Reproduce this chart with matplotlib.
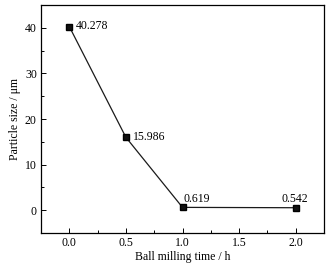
import matplotlib
matplotlib.use('Agg')
import matplotlib.pyplot as plt
from matplotlib.ticker import MultipleLocator

plt.rcParams['font.family'] = 'Liberation Serif'
plt.rcParams['font.size'] = 8.5

time = [0.0, 0.5, 1.0, 2.0]
size = [40.278, 15.986, 0.619, 0.542]
labels = ['40.278', '15.986', '0.619', '0.542']

fig = plt.figure(figsize=(3.31, 2.67), dpi=100)
ax = fig.add_axes([41/331, 1 - 233/267, 283/331, 228/267])

ax.plot(time, size, color='#1a1a1a', lw=0.9, marker='s', ms=4.2, mfc='#111111', mec='black')

offsets = [(5, -2), (5, -2), (1, 4), (-10, 4)]
for x, y, t, off in zip(time, size, labels, offsets):
    ax.annotate(t, (x, y), xytext=off, textcoords='offset points', fontsize=8.5)

ax.set_xlim(-0.25, 2.25)
ax.set_ylim(-5, 45)
ax.xaxis.set_major_locator(MultipleLocator(0.5))
ax.xaxis.set_minor_locator(MultipleLocator(0.25))
ax.yaxis.set_major_locator(MultipleLocator(10))
ax.yaxis.set_minor_locator(MultipleLocator(5))
ax.tick_params(which='both', direction='in')
ax.tick_params(which='major', length=3.5, width=0.7, pad=3)
ax.tick_params(which='minor', length=2, width=0.7)
for s in ax.spines.values():
    s.set_linewidth(0.9)

ax.set_xlabel('Ball milling time / h', fontsize=8.5, labelpad=1)
ax.set_ylabel('Particle size / μm', fontsize=8.5, labelpad=3)

plt.savefig('out.png', dpi=100)
